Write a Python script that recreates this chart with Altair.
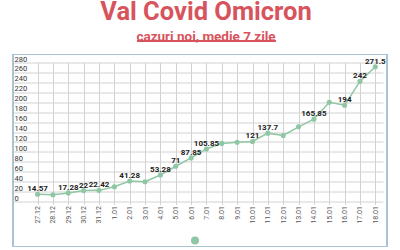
import json
import altair as alt
import pandas as pd

dates = ["27.12", "28.12", "29.12", "30.12", "31.12", "1.01", "2.01", "3.01", "4.01",
         "5.01", "6.01", "7.01", "8.01", "9.01", "10.01", "11.01", "12.01", "13.01",
         "14.01", "15.01", "16.01", "17.01", "18.01"]
values = [14.57, 13.7, 17.28, 22, 22.42, 29.7, 41.28, 39.7, 53.28,
          71, 87.85, 105.85, 117, 119.5, 121, 137.7, 133, 150.5,
          165.85, 200, 194, 242, 271.5]
labels = ["14.57", "", "17.28", "22", "22.42", "", "41.28", "", "53.28",
          "71", "87.85", "105.85", "", "", "121", "137.7", "", "",
          "165.85", "", "194", "242", "271.5"]
y_ticks = list(range(0, 281, 20))

RED = "#d8545d"
GREEN = "#8fc6a3"
GRID = "#d2d2d2"
FRAME = "#a6c4d4"
FONT = "Roboto"

df = pd.DataFrame({
    "i": list(range(len(dates))),
    "data": dates,
    "cazuri": values,
    "eticheta": labels,
    "serie": ["Omicron"] * len(dates),
})

label_expr = json.dumps(dates) + "[datum.value]"

x_enc = alt.X(
    "i:Q",
    scale=alt.Scale(domain=[-1.6, 22.5], nice=False, zero=False),
    axis=alt.Axis(
        title=None, values=list(range(len(dates))), labelExpr=label_expr,
        labelAngle=-90, labelFontSize=7, labelColor="#555", labelFont=FONT,
        grid=True, gridColor=GRID, domain=False, ticks=True, tickSize=3,
        tickColor=GRID, labelPadding=1, labelOverlap=False,
    ),
)
y_enc = alt.Y(
    "cazuri:Q",
    scale=alt.Scale(domain=[0, 280], nice=False),
    axis=alt.Axis(
        title=None, values=y_ticks, grid=True, gridColor=GRID, domain=False,
        ticks=False, tickSize=0, labelPadding=-1, labelAlign="left",
        labelBaseline="alphabetic", labelOffset=-1.5, labelFontSize=7.5,
        labelColor="#333", labelFont=FONT, labelOverlap=False,
    ),
)

base = alt.Chart(df)

line = base.mark_line(color=GREEN, strokeWidth=1.5).encode(x=x_enc, y=y_enc)
points = base.mark_point(filled=True, size=26, opacity=1).encode(
    x=x_enc, y=y_enc,
    color=alt.Color(
        "serie:N", scale=alt.Scale(range=[GREEN]),
        legend=alt.Legend(
            title=None, orient="none", legendX=178, legendY=174,
            symbolType="circle", symbolSize=64, symbolStrokeWidth=0,
            symbolOpacity=1, labelExpr="''", labelFontSize=1,
        ),
    ),
)
text = base.mark_text(
    font=FONT, fontSize=8, fontWeight="bold", color="#222",
    baseline="alphabetic", dy=-3,
).encode(x=x_enc, y=y_enc, text="eticheta:N")

frame = alt.Chart(df).mark_rect(fill=None, stroke=FRAME, strokeWidth=1).encode(
    x=alt.value(0), x2=alt.value(374), y=alt.value(-8), y2=alt.value(184)
)
underline = alt.Chart(df).mark_rule(color=RED, strokeWidth=1).encode(
    x=alt.value(124), x2=alt.value(263), y=alt.value(-21.5)
)

chart = alt.layer(frame, underline, line, points, text).properties(
    width=370,
    height=139,
    autosize=alt.AutoSizeParams(type="none"),
    padding={"left": 13, "top": 62.5, "right": 17, "bottom": 48.5},
    title=alt.TitleParams(
        text="Val Covid Omicron",
        subtitle="cazuri noi, medie 7 zile",
        font=FONT, fontSize=25.5, fontWeight="bold", color=RED,
        subtitleFont=FONT, subtitleFontSize=13.5, subtitleFontWeight="bold",
        subtitleColor=RED, subtitlePadding=5,
        anchor="middle", frame="group", dx=8, offset=-3,
    ),
).configure_view(stroke=None)

chart.save("out.html", embed_options={"renderer": "svg", "actions": False})
